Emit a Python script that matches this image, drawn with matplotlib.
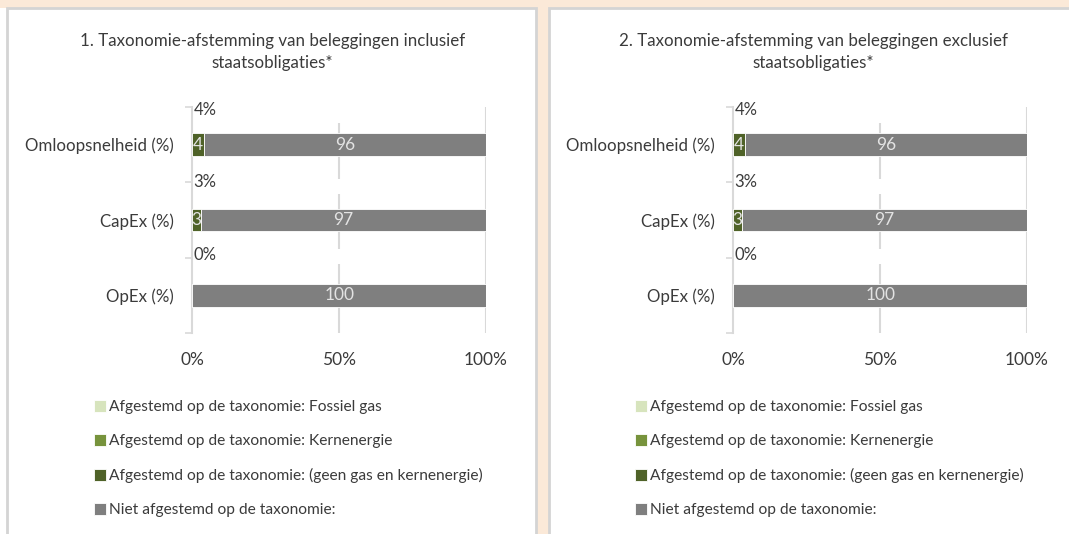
import matplotlib.pyplot as plt
from matplotlib.patches import Rectangle

W, H = 1069, 534

categories = ["OpEx (%)", "CapEx (%)", "Omloopsnelheid (%)"]
fossil_gas = [0, 0, 0]
kernenergie = [0, 0, 0]
aligned_other = [0, 3, 4]
not_aligned = [100, 97, 96]
total_labels = ["0%", "3%", "4%"]

titles = [
    "1. Taxonomie-afstemming van beleggingen inclusief\nstaatsobligaties*",
    "2. Taxonomie-afstemming van beleggingen exclusief\nstaatsobligaties*",
]
series_names = [
    "Afgestemd op de taxonomie: Fossiel gas",
    "Afgestemd op de taxonomie: Kernenergie",
    "Afgestemd op de taxonomie: (geen gas en kernenergie)",
    "Niet afgestemd op de taxonomie:",
]
colors = ["#D7E4BD", "#77933C", "#4F6228", "#7F7F7F"]

plt.rcParams["font.family"] = ["Lato", "DejaVu Sans"]
TXT = "#3b3b3b"
GRID = "#D9D9D9"


def fx(px):
    return px / W


def fy(py):
    return 1 - py / H


fig = plt.figure(figsize=(W / 100, H / 100), dpi=100)
fig.patch.set_facecolor("#FBE9D8")

# white strip at the far left and the two panels
fig.patches.append(Rectangle((0, 0), fx(7), fy(8), transform=fig.transFigure,
                             facecolor="white", edgecolor="none", zorder=-5))
for x0, x1 in [(7, 536), (549, 1080)]:
    fig.patches.append(Rectangle((fx(x0), fy(540)), fx(x1 - x0), fy(8) - fy(540),
                                 transform=fig.transFigure, facecolor="white",
                                 edgecolor="#D4D4D4", linewidth=2, zorder=-5))

for p, title in enumerate(titles):
    off = 541 * p
    ax = fig.add_axes([fx(192.3 + off), fy(333), fx(486 - 192.3), fy(107) - fy(333)])
    ax.set_facecolor("none")

    y = list(range(len(categories)))
    left = [0] * len(categories)
    handles = []
    for vals, col in zip([fossil_gas, kernenergie, aligned_other, not_aligned], colors):
        b = ax.barh(y, vals, left=left, height=0.297, color=col,
                    edgecolor="white", linewidth=0.6, zorder=3)
        handles.append(b)
        for yi, v, l in zip(y, vals, left):
            if v > 0:
                ax.text(l + v / 2, yi, str(v), ha="center", va="center",
                        fontsize=12.5, color="#E3E3E3", zorder=4)
        left = [a + v for a, v in zip(left, vals)]

    for yi, lab in zip(y, total_labels):
        ax.text(0.4, yi + 0.5 - 0.04 * (yi - 1), lab, ha="left", va="center",
                fontsize=12, color=TXT, zorder=4)

    ax.set_xlim(0, 100)
    ax.set_ylim(-0.5, 2.5)

    # gridlines: 100% full, 50% broken around the small labels
    ax.vlines(100, -0.5, 2.5, color=GRID, linewidth=1.5, zorder=1)
    segs = [(-0.5, 0.41), (0.61, 1.35), (1.55, 2.29)]
    for a, b in segs:
        ax.vlines(50, a, b, color=GRID, linewidth=1.5, zorder=1)

    for s in ["top", "right", "bottom"]:
        ax.spines[s].set_visible(False)
    ax.spines["left"].set_color(GRID)
    ax.spines["left"].set_linewidth(1.5)

    ax.set_yticks([-0.5, 0.5, 1.5, 2.5])
    ax.set_yticklabels([])
    ax.set_yticks(y, minor=True)
    ax.set_yticklabels(categories, minor=True, fontsize=12.2, color=TXT)
    ax.tick_params(axis="y", which="major", length=5, color=GRID, width=1.2)
    ax.tick_params(axis="y", which="minor", length=0, pad=13)

    ax.set_xticks([0, 50, 100])
    ax.set_xticklabels(["0%", "50%", "100%"], fontsize=12.5, color=TXT)
    ax.tick_params(axis="x", length=0, pad=14)

    fig.text(fx(272.5 + off), fy(52), title, ha="center", va="center",
             fontsize=12.2, color=TXT, linespacing=1.45)

    ax.legend(handles, series_names, loc="upper left",
              bbox_to_anchor=(fx(88 + off), fy(394)), bbox_transform=fig.transFigure,
              frameon=False, fontsize=11.2, handlelength=0.75, handleheight=0.75,
              handletextpad=0.2, labelspacing=1.28, borderaxespad=0,
              labelcolor=TXT)

fig.savefig("out.png", dpi=100, facecolor=fig.get_facecolor())
